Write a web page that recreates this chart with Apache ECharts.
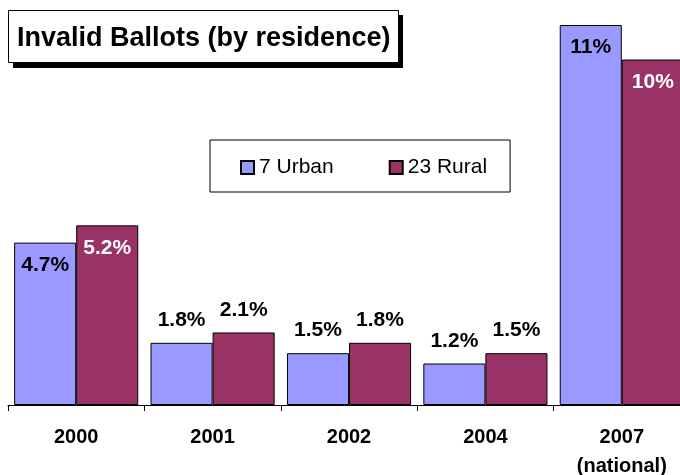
<!DOCTYPE html>
<html><head><meta charset="utf-8">
<script src="https://cdn.jsdelivr.net/npm/echarts@6/dist/echarts.min.js"></script>
<style>html,body{margin:0;padding:0;background:#fff}#c{width:680px;height:475px}</style>
</head><body><div id="c"></div>
<script>
const categories = ['2000', '2001', '2002', '2004', '2007\n(national)'];
const urban = [4.7, 1.8, 1.5, 1.2, 11];
const rural = [5.2, 2.1, 1.8, 1.5, 10];
const labelsUrban = ['4.7%', '1.8%', '1.5%', '1.2%', '11%'];
const labelsRural = ['5.2%', '2.1%', '1.8%', '1.5%', '10%'];
const insideUrban = [true, false, false, false, true];
const insideRural = [true, false, false, false, true];
const seriesNames = ['7 Urban', '23 Rural'];
const titleText = 'Invalid Ballots (by residence)';

const FONT = '"Liberation Sans", Arial, sans-serif';

function makeData(vals, labels, inside, insideColor) {
  return vals.map((v, i) => ({
    value: v,
    label: inside[i]
      ? { position: 'insideTop', distance: 12, color: insideColor, formatter: labels[i] }
      : { position: 'top', distance: 12, color: '#000', formatter: labels[i] }
  }));
}

const chart = echarts.init(document.getElementById('c'));
chart.setOption({
  animation: false,
  backgroundColor: '#fff',
  grid: { left: 8, top: 25, width: 682, height: 380, containLabel: false, outerBoundsMode: 'none' },
  xAxis: {
    type: 'category',
    data: categories,
    axisLine: { lineStyle: { color: '#000', width: 1 } },
    axisTick: { show: true, length: 6, lineStyle: { color: '#000' } },
    axisLabel: { fontFamily: FONT, fontSize: 20, fontWeight: 'bold', color: '#000', margin: 18, lineHeight: 29 }
  },
  yAxis: { type: 'value', min: 0, max: 11, show: false, splitLine: { show: false } },
  legend: {
    left: 210, top: 140,
    backgroundColor: '#fff', borderColor: '#000', borderWidth: 1,
    padding: [17, 23, 14, 30],
    itemWidth: 13, itemHeight: 13, itemGap: 55,
    icon: 'rect',
    textStyle: { fontFamily: FONT, fontSize: 21, color: '#000' },
    data: seriesNames
  },
  graphic: [
    { type: 'rect', shape: { x: 13, y: 15, width: 390, height: 53 }, style: { fill: '#000' }, z: 10 },
    { type: 'rect', shape: { x: 8.5, y: 10.5, width: 390, height: 52 }, style: { fill: '#fff', stroke: '#000', lineWidth: 1 }, z: 11 },
    { type: 'text', left: 17, top: 25, z: 12, style: { text: titleText, font: 'bold 27px ' + FONT, fill: '#000' } }
  ],
  series: [
    {
      name: seriesNames[0], type: 'bar', barGap: '0%', barCategoryGap: '9%',
      itemStyle: { color: '#9999FF', borderColor: '#000', borderWidth: 1 },
      label: { show: true, fontFamily: FONT, fontSize: 21, fontWeight: 'bold' },
      data: makeData(urban, labelsUrban, insideUrban, '#000')
    },
    {
      name: seriesNames[1], type: 'bar',
      itemStyle: { color: '#993366', borderColor: '#000', borderWidth: 1 },
      label: { show: true, fontFamily: FONT, fontSize: 21, fontWeight: 'bold' },
      data: makeData(rural, labelsRural, insideRural, '#fff')
    }
  ]
});
</script></body></html>
